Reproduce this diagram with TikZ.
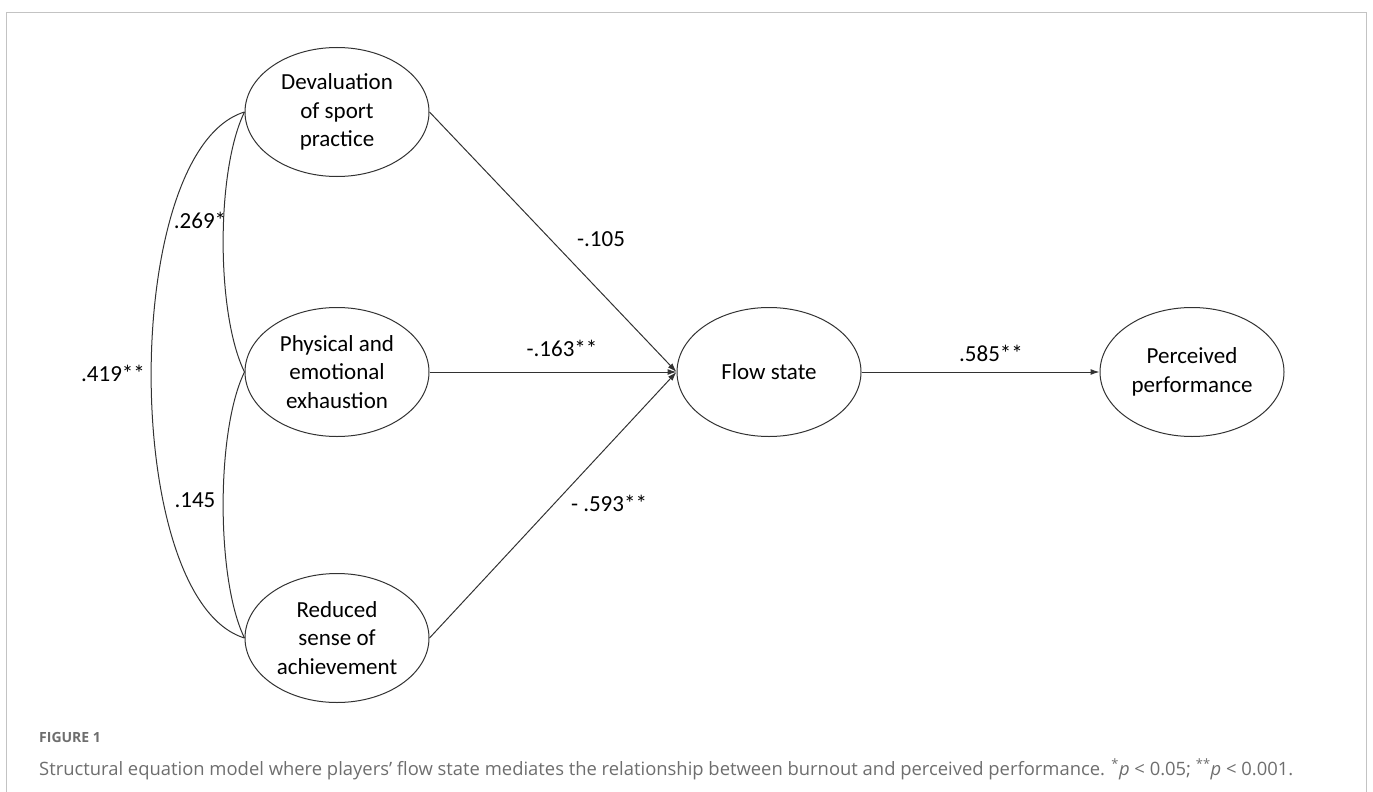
\documentclass[tikz,border=0pt]{standalone}
\usepackage{fontspec}
\setmainfont{Carlito}
\newfontfamily\capfont{Open Sans}
\usetikzlibrary{shapes.geometric,arrows.meta}
\definecolor{framegray}{RGB}{195,195,195}
\definecolor{capgray}{RGB}{110,110,110}
\definecolor{linegray}{RGB}{50,50,50}
\begin{document}
\begin{tikzpicture}[x=1pt,y=-1pt,
  latent/.style={ellipse,draw=linegray,line width=1pt,minimum width=184pt,minimum height=129pt,inner sep=0pt,align=center,font=\fontsize{23}{28.5}\selectfont},
  arr/.style={draw=linegray,line width=1pt,-{Latex[length=9pt,width=6pt]}},
  cov/.style={draw=linegray,line width=1pt},
  lbl/.style={font=\fontsize{23}{28}\selectfont,inner sep=0pt}]
\useasboundingbox (0,0) rectangle (1373,792);
\draw[framegray,line width=1.3pt] (6.5,792) -- (6.5,12.5) -- (1366.5,12.5) -- (1366.5,792);

\node[latent] (dev) at (337,112) {Devaluation\\of sport\\practice};
\node[latent] (phy) at (337,372) {Physical and\\emotional\\exhaustion};
\node[latent] (red) at (337,638) {Reduced\\sense of\\achievement};
\node[latent] (flow) at (769,372) {Flow state};
\node[latent] (perf) at (1192,372) {Perceived\\performance};

\draw[arr] (dev.east) -- (flow.west);
\draw[arr] (phy.east) -- (flow.west);
\draw[arr] (red.east) -- (flow.west);
\draw[arr] (flow.east) -- (perf.west);

\draw[cov] (dev.west) .. controls (216,170) and (216,314) .. (phy.west);
\draw[cov] (phy.west) .. controls (216,430) and (216,580) .. (red.west);
\draw[cov] (dev.west) .. controls (120,150) and (120,600) .. (red.west);

\node[lbl] (l269) at (200,220) {.269*};
\node[lbl] (l419) at (113,373) {.419**};
\node[lbl] (l145) at (195,500) {.145};
\node[lbl] (l105) at (601,239) {-.105};
\node[lbl] (l163) at (562,348) {-.163**};
\node[lbl] (l593) at (609,503) {- .593**};
\node[lbl] (l585) at (991,353) {.585**};

\node[anchor=base west,inner sep=0pt,text=capgray,font=\capfont\bfseries\fontsize{14}{16}\selectfont] (fig) at (39,742) {FIGURE 1};
\node[anchor=base west,inner sep=0pt,text=capgray] (cap) at (39,775) {\resizebox{1254pt}{!}{\capfont\fontsize{18}{20}\selectfont Structural equation model where players’ flow state mediates the relationship between burnout and perceived performance. \textsuperscript{*}\textit{p} < 0.05; \textsuperscript{**}\textit{p} < 0.001.}};
\end{tikzpicture}
\end{document}
